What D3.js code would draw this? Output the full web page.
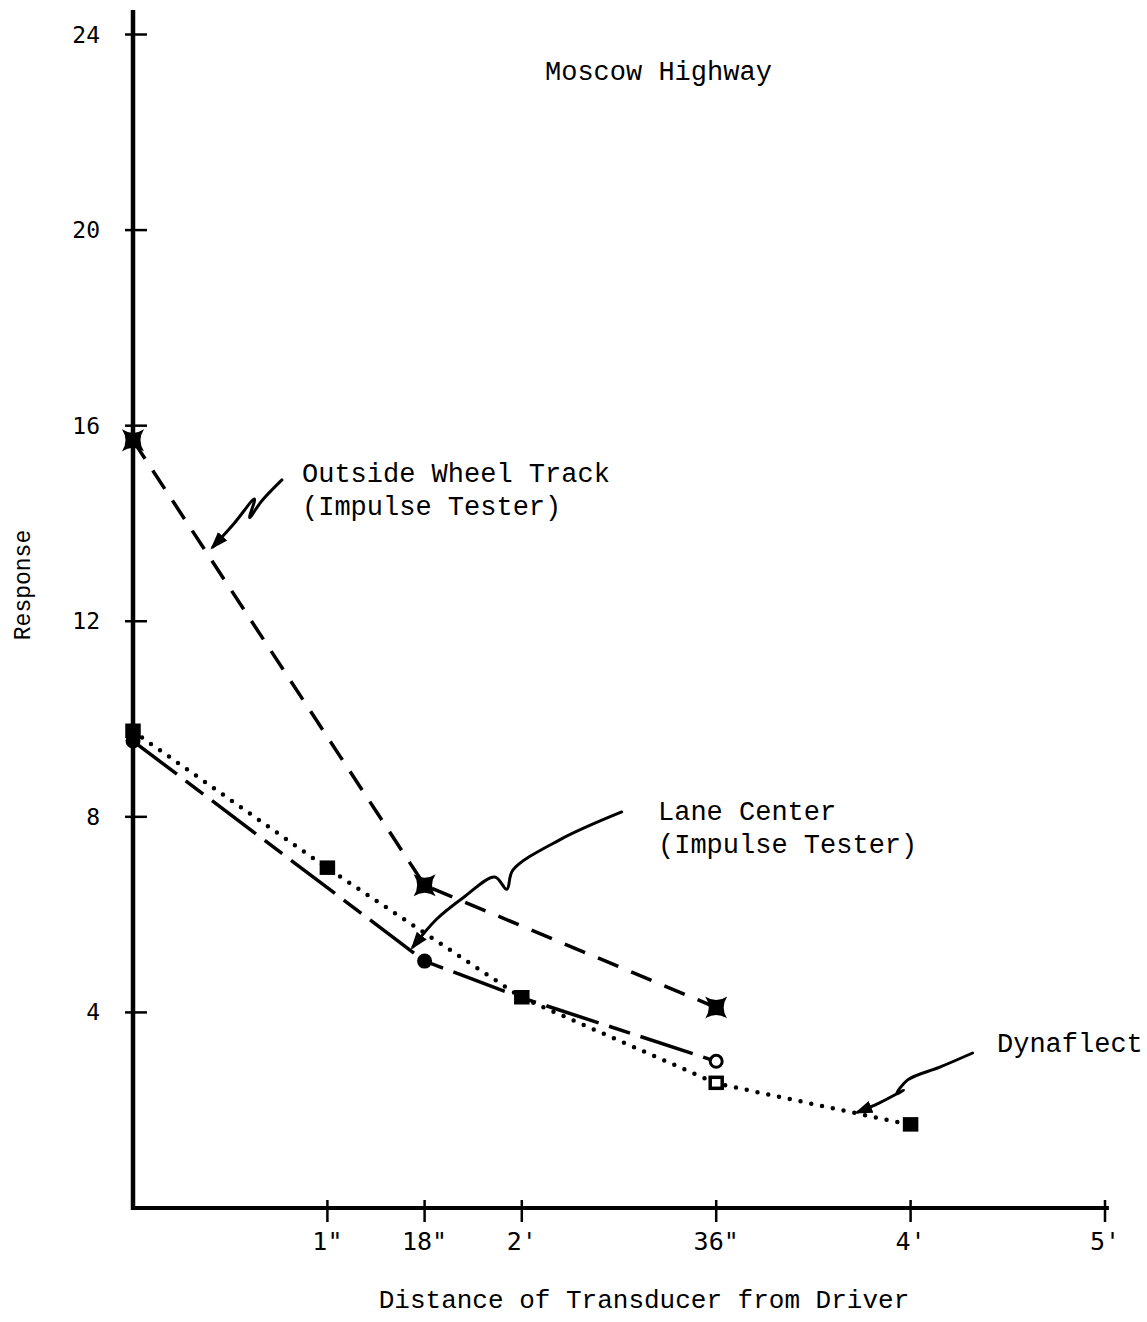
<!DOCTYPE html>
<html>
<head>
<meta charset="utf-8">
<script src="https://cdn.jsdelivr.net/npm/d3@7"></script>
<style>
  html, body { margin: 0; padding: 0; background: #fff; }
  svg { display: block; }
  text { fill: #000; }
</style>
</head>
<body>
<svg id="chart" width="1147" height="1322"></svg>
<script>
// ---------- data (x in feet, y = response) ----------
const xTickValues = [1, 1.5, 2, 3, 4, 5];
const xTickLabels = ["1\"", "18\"", "2'", "36\"", "4'", "5'"];
const yTickValues = [4, 8, 12, 16, 20, 24];
const yTickLabels = ["4", "8", "12", "16", "20", "24"];

const outsideX = [0, 1.5, 3];
const outsideY = [15.7, 6.6, 4.1];

const laneX = [0, 1.5, 2, 3];
const laneY = [9.55, 5.05, 4.3, 3.0];

const dynaX = [0, 1, 2, 3, 4];
const dynaY = [9.75, 6.95, 4.3, 2.55, 1.7];

// annotation arrows, in data units (from label toward curve)
const outsideArrow = [[0.766, 14.89], [0.66, 14.45], [0.60, 14.12], [0.625, 14.50], [0.52, 14.0], [0.411, 13.52]];
const laneArrow = [[2.514, 8.10], [2.195, 7.53], [1.954, 6.91], [1.923, 6.52], [1.861, 6.77], [1.70, 6.35], [1.56, 5.9], [1.44, 5.34]];
const dynaArrow = [[4.319, 3.17], [4.15, 2.88], [3.985, 2.62], [3.928, 2.33], [3.964, 2.41], [3.84, 2.15], [3.728, 1.96]];

const title = "Moscow Highway";
const xLabel = "Distance of Transducer from Driver";
const yLabel = "Response";
const outsideLabel = ["Outside Wheel Track", "(Impulse Tester)"];
const laneLabel = ["Lane Center", "(Impulse Tester)"];
const dynaLabel = ["Dynaflect"];

// ---------- layout ----------
const svg = d3.select("#chart");
const x = d3.scaleLinear().domain([0, 5]).range([133, 1105]);
const y = d3.scaleLinear().domain([0, 24]).range([1208, 34.5]);
const mono = "'Liberation Mono', 'DejaVu Sans Mono', monospace";
const tickFont = "'DejaVu Sans Mono', monospace";

// arrowhead marker
svg.append("defs").append("marker")
  .attr("id", "ah").attr("viewBox", "0 0 10 10")
  .attr("refX", 8).attr("refY", 5)
  .attr("markerWidth", 6).attr("markerHeight", 6)
  .attr("markerUnits", "strokeWidth")
  .attr("orient", "auto")
  .append("path").attr("d", "M0,1.5 L10,5 L0,8.5 Z").attr("fill", "#000");

// ---------- axes ----------
const axes = svg.append("g");
axes.append("line")
  .attr("x1", x(0)).attr("x2", x(0))
  .attr("y1", y(0) + 2).attr("y2", y(24.5))
  .attr("stroke", "#000").attr("stroke-width", 4.5);
axes.append("line")
  .attr("x1", x(0) - 2).attr("x2", x(5.02))
  .attr("y1", y(0)).attr("y2", y(0))
  .attr("stroke", "#000").attr("stroke-width", 4);

axes.selectAll(".yt").data(yTickValues).join("line")
  .attr("x1", x(0) - 8).attr("x2", x(0) + 14)
  .attr("y1", d => y(d)).attr("y2", d => y(d))
  .attr("stroke", "#000").attr("stroke-width", 2.5);
axes.selectAll(".ytl").data(yTickValues).join("text")
  .attr("x", x(0) - 33).attr("y", d => y(d))
  .attr("dy", "0.35em").attr("text-anchor", "end")
  .style("font-family", tickFont).style("font-size", "23px")
  .text((d, i) => yTickLabels[i]);

axes.selectAll(".xt").data(xTickValues).join("line")
  .attr("x1", d => x(d)).attr("x2", d => x(d))
  .attr("y1", y(0) - 8).attr("y2", y(0) + 14)
  .attr("stroke", "#000").attr("stroke-width", 2.5);
axes.selectAll(".xtl").data(xTickValues).join("text")
  .attr("x", d => x(d)).attr("y", y(0) + 42)
  .attr("text-anchor", "middle")
  .style("font-family", tickFont).style("font-size", "25px")
  .text((d, i) => xTickLabels[i]);

// ---------- series ----------
const line = d3.line().x(d => x(d[0])).y(d => y(d[1]));
const zip = (a, b) => a.map((v, i) => [v, b[i]]);

const dyna = zip(dynaX, dynaY);
const lane = zip(laneX, laneY);
const outside = zip(outsideX, outsideY);

svg.append("path").attr("d", line(dyna))
  .attr("fill", "none").attr("stroke", "#000").attr("stroke-width", 4.5)
  .attr("stroke-linecap", "round").attr("stroke-dasharray", "0,11");

svg.append("path").attr("d", line(lane))
  .attr("fill", "none").attr("stroke", "#000").attr("stroke-width", 3.5)
  .attr("stroke-dasharray", "55,11,22,11");

svg.append("path").attr("d", line(outside))
  .attr("fill", "none").attr("stroke", "#000").attr("stroke-width", 3.5)
  .attr("stroke-dasharray", "22,14");

// markers
const astroid = r => `M${-r},${-r} Q0,${-r * 0.35} ${r},${-r} Q${r * 0.35},0 ${r},${r} Q0,${r * 0.35} ${-r},${r} Q${-r * 0.35},0 ${-r},${-r} Z`;
svg.selectAll(".om").data(outside).join("path")
  .attr("transform", d => `translate(${x(d[0])},${y(d[1])})`)
  .attr("d", astroid(11)).attr("fill", "#000");

svg.selectAll(".lm").data(lane.filter(d => d[0] !== 2)).join("circle")
  .attr("cx", d => x(d[0])).attr("cy", d => y(d[1])).attr("r", 6)
  .attr("fill", d => d[0] === 3 ? "#fff" : "#000")
  .attr("stroke", "#000").attr("stroke-width", 3);

svg.selectAll(".dm").data(dyna).join("rect")
  .attr("x", d => x(d[0]) - 6).attr("y", d => y(d[1]) - 6)
  .attr("width", 12).attr("height", 11)
  .attr("fill", d => d[0] === 3 ? "#fff" : "#000")
  .attr("stroke", "#000").attr("stroke-width", 3.5);

// ---------- annotations ----------
const arrowLine = d3.line().x(d => x(d[0])).y(d => y(d[1])).curve(d3.curveCatmullRom.alpha(0.5));
[outsideArrow, laneArrow, dynaArrow].forEach(a => {
  svg.append("path").attr("d", arrowLine(a))
    .attr("fill", "none").attr("stroke", "#000").attr("stroke-width", 3)
    .attr("stroke-linejoin", "round").attr("stroke-linecap", "round")
    .attr("marker-end", "url(#ah)");
});

function label(lines, px, py, size) {
  const t = svg.append("text")
    .style("font-family", mono).style("font-size", size + "px");
  lines.forEach((s, i) => {
    t.append("tspan").attr("x", px).attr("y", py + i * 33).text(s);
  });
}
label(outsideLabel, 302, 482, 27);
label(laneLabel, 658, 820, 27);
label(dynaLabel, 997, 1052, 27);
label([title], 545, 80, 27);

svg.append("text")
  .attr("x", 644).attr("y", 1308).attr("text-anchor", "middle")
  .style("font-family", mono).style("font-size", "26px")
  .text(xLabel);

svg.append("text")
  .attr("transform", "translate(30,585) rotate(-90)")
  .attr("text-anchor", "middle")
  .style("font-family", mono).style("font-size", "23px")
  .text(yLabel);
</script>
</body>
</html>
